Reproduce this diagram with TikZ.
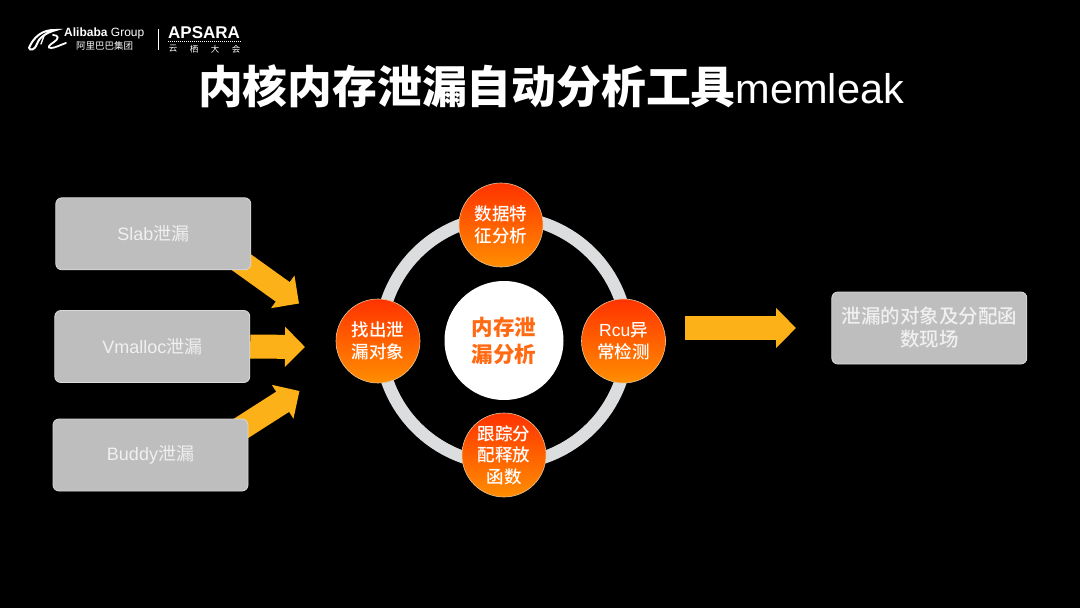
\documentclass[tikz,border=0pt]{standalone}
\usepackage{fontspec}
\setmainfont{Liberation Sans}
\newfontfamily\cjk{Noto Sans CJK SC}
\newfontfamily\cjkmid{Noto Sans CJK SC Medium}
\usetikzlibrary{arrows.meta}
\definecolor{boxgray}{HTML}{BEBEBE}
\definecolor{boxline}{HTML}{DADADA}
\definecolor{boxtext}{HTML}{F0F0F0}
\definecolor{arrowgold}{HTML}{FDB118}
\definecolor{ringgray}{HTML}{DCDDDE}
\definecolor{topred}{HTML}{FF3300}
\definecolor{lowamber}{HTML}{FF8E00}
\definecolor{coreorange}{HTML}{FF6A13}
\pgfdeclarelayer{backdrop}
\pgfdeclarelayer{arrowlayer}
\pgfsetlayers{backdrop,arrowlayer,main}
\begin{document}
\begin{tikzpicture}[x=1pt, y=-1pt,
  leakbox/.style={draw=boxline, line width=0.8pt, fill=boxgray, rounded corners=6pt, minimum width=195pt, minimum height=72pt, inner sep=0pt, text=boxtext, align=center, font=\fontsize{18}{22}\selectfont\cjk},
  stepcircle/.style={circle, draw=ringgray!70!lowamber, line width=0.6pt, top color=topred, bottom color=lowamber, minimum size=84pt, inner sep=0pt, text=white, align=center, font=\fontsize{17.5}{22}\selectfont\cjkmid},
  bigarrow/.style={draw=arrowgold, line width=24pt, -{Triangle[length=20pt, width=39pt, fill=arrowgold]}}]

\useasboundingbox (0,0) rectangle (1080,608);
\begin{pgfonlayer}{backdrop}
\fill[black] (0,0) rectangle (1080,608);
\end{pgfonlayer}

% Logo line at the top left
\draw[white, line width=2pt, line cap=round] (29,48) .. controls (33,38) and (42,29) .. (56,30) .. controls (48,32) and (39,37) .. (37,44) .. controls (35,50) and (30,51) .. (29,48);
\draw[white, line width=1.3pt, line cap=round] (44,36) -- (41,44);
\draw[white, line width=1.8pt, line cap=round] (53,35) .. controls (59,35) and (59,39) .. (54,42) .. controls (49,45) and (47,48) .. (51,48) .. controls (55,48) and (60,45) .. (66,43);
\node[white, inner sep=0pt, anchor=west, font=\fontsize{12}{14}\selectfont] (group) at (64,33.5) {\textbf{Alibaba} Group};
\node[white, inner sep=0pt, anchor=west, font=\fontsize{9.5}{11}\selectfont\cjk] (groupcn) at (76,46) {阿里巴巴集团};
\draw[white, line width=0.6pt] (158,29) -- (158,50);
\node[white, inner sep=0pt, anchor=west, font=\fontsize{17}{18}\selectfont\bfseries] (apsara) at (168,33) {APSARA};
\draw[white, line width=0.8pt, dash pattern=on 1pt off 1pt] (168,41) -- (241,41);
\foreach \i/\x/\t in {a/173/云, b/194/栖, c/215/大, d/236/会}
  \node[white, inner sep=0pt, font=\fontsize{8.5}{10}\selectfont\cjk] (apsara\i) at (\x,49) {\t};

% Title
\node[white, inner sep=0pt, font=\fontsize{44.8}{50}\selectfont] (title) at (551,86) {{\cjk\bfseries 内核内存泄漏自动分析工具}\fontsize{41.5}{50}\selectfont memleak};

% Leak type boxes on the left
\node[leakbox] (slab) at (153.3,233.8) {{\rmfamily Slab}泄漏};
\node[leakbox] (vmalloc) at (152.3,346.5) {{\rmfamily Vmalloc}泄漏};
\node[leakbox] (buddy) at (150.5,455) {{\rmfamily Buddy}泄漏};

% Result box on the right
\node[leakbox, font=\fontsize{19.5}{23}\selectfont\cjkmid] (result) at (929.3,328) {泄漏的对象及分配函\\数现场};

% Ring with the centre and the four steps
\node[circle, fill=white, minimum size=119pt, inner sep=0pt, text=coreorange, align=center, font=\fontsize{21.5}{27}\selectfont\bfseries\cjk] (core) at (504,340.5) {内存泄\\漏分析};
\draw[ringgray, line width=12.5pt] (core.center) circle (123.5);
\node[stepcircle] (feature) at (501,225) {数据特\\征分析};
\node[stepcircle] (rcu) at (623.5,341) {{\rmfamily Rcu}异\\常检测};
\node[stepcircle, font=\fontsize{17.5}{21.5}\selectfont\cjkmid] (trace) at (504,455) {跟踪分\\配释放\\函数};
\node[stepcircle] (find) at (378,341) {找出泄\\漏对象};

% Free ends of the arrows
\coordinate (slabtip) at (299,303.5);
\coordinate (vmalloctip) at (305,347);
\coordinate (buddytip) at (299.5,391);
\coordinate (ringout) at (684.5,328);
\coordinate (resulttip) at (796,328);

% Arrows run under the boxes
\begin{pgfonlayer}{arrowlayer}
\draw[bigarrow] ([shift={(-14,-11)}]slab.south east) -- (slabtip);
\draw[bigarrow] (vmalloc.east) -- (vmalloctip);
\draw[bigarrow] ([shift={(-14,14)}]buddy.north east) -- (buddytip);
\draw[bigarrow] (ringout) -- (resulttip);
\end{pgfonlayer}

\end{tikzpicture}
\end{document}
